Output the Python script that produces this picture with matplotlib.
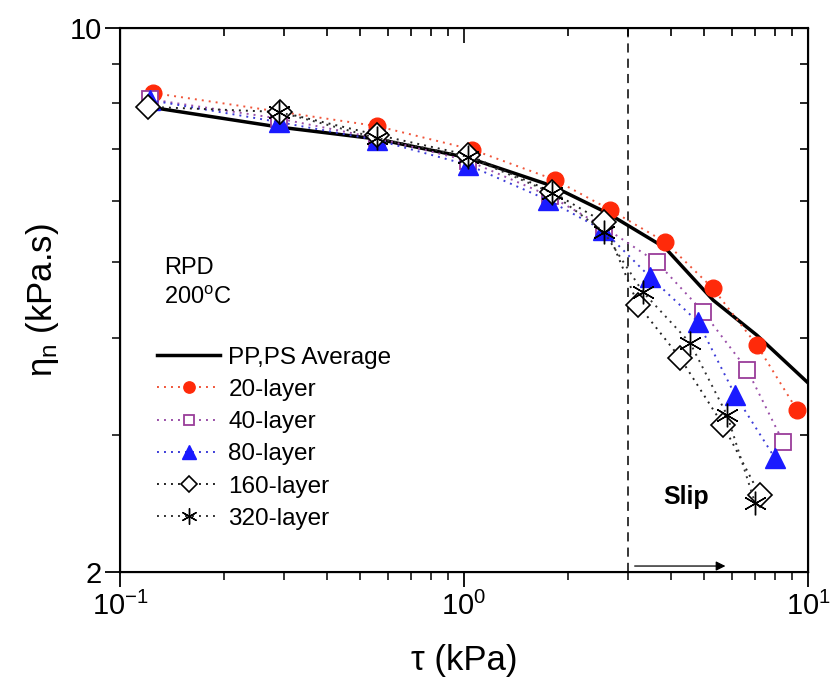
import matplotlib
matplotlib.use('Agg')
import matplotlib.pyplot as plt
from matplotlib.ticker import FixedLocator, NullFormatter, FixedFormatter

plt.rcParams['font.family'] = ['Liberation Sans', 'DejaVu Sans']
plt.rcParams['mathtext.fontset'] = 'custom'
plt.rcParams['mathtext.rm'] = 'Liberation Sans'
plt.rcParams['mathtext.it'] = 'Liberation Sans:italic'

# PP,PS average (solid line)
avg_x = [0.1206, 0.29, 0.56, 1.03, 1.8, 2.6, 3.84, 5.3, 7.1, 10.0]
avg_y = [7.92, 7.46, 7.20, 6.81, 6.27, 5.79, 5.22, 4.47, 4.03, 3.50]

# multilayer series
l20_x = [0.125, 0.56, 1.055, 1.84, 2.66, 3.84, 5.29, 7.11, 9.29]
l20_y = [8.25, 7.48, 6.98, 6.38, 5.84, 5.31, 4.63, 3.91, 3.23]

l40_x = [0.122, 0.29, 0.558, 1.03, 1.78, 2.55, 3.64, 4.95, 6.65, 8.46]
l40_y = [8.10, 7.65, 7.22, 6.75, 6.08, 5.55, 5.00, 4.32, 3.64, 2.94]

l80_x = [0.122, 0.29, 0.558, 1.027, 1.755, 2.536, 3.47, 4.79, 6.13, 8.02]
l80_y = [8.08, 7.57, 7.18, 6.67, 6.01, 5.50, 4.79, 4.19, 3.38, 2.80]

l160_x = [0.1206, 0.292, 0.5586, 1.027, 1.80, 2.55, 3.205, 4.245, 5.66, 7.25]
l160_y = [7.92, 7.80, 7.29, 6.87, 6.16, 5.63, 4.41, 3.77, 3.09, 2.51]

l320_x = [0.29, 0.56, 1.03, 1.80, 2.55, 3.31, 4.54, 5.82, 7.02]
l320_y = [7.80, 7.22, 6.83, 6.14, 5.47, 4.58, 3.94, 3.18, 2.45]

slip_tau = 3.0

dots = (0, (1, 2.6))

fig = plt.figure(figsize=(8.32, 6.8), dpi=100)
ax = fig.add_axes([0.1442, 0.1588, 0.8270, 0.8000])

ax.plot(avg_x, avg_y, color='black', lw=2.5, label='PP,PS Average', zorder=2)
ax.plot(l20_x, l20_y, ls=dots, lw=1.4, color='#f0553a', marker='o', ms=12,
        mfc='#ff2a0a', mec='#ff2a0a', label='20-layer', zorder=3)
ax.plot(l40_x, l40_y, ls=dots, lw=1.4, color='#9a4fa8', marker='s', ms=11,
        mfc='white', mec='#9a3d9a', mew=1.3, label='40-layer', zorder=3)
ax.plot(l80_x, l80_y, ls=dots, lw=1.4, color='#3c3cd8', marker='^', ms=14,
        mfc='#1a1aff', mec='#1a1aff', label='80-layer', zorder=3)
ax.plot(l160_x, l160_y, ls=dots, lw=1.4, color='#222222', marker='D', ms=12,
        mfc='white', mec='black', mew=1.2, label='160-layer', zorder=4)
ax.plot(l320_x, l320_y, ls=dots, lw=1.4, color='#333333', marker=(6, 2, 0), ms=17,
        mec='black', mew=1.0, label='320-layer', zorder=5)

ax.axvline(slip_tau, color='black', ls=(0, (6, 4)), lw=1.1, zorder=1)

ax.set_xscale('log')
ax.set_yscale('log')
ax.set_xlim(0.1, 10)
ax.set_ylim(2, 10)

ax.yaxis.set_major_locator(FixedLocator([2, 10]))
ax.yaxis.set_major_formatter(FixedFormatter(['2', '10']))
ax.yaxis.set_minor_locator(FixedLocator([3, 4, 5, 6, 7, 8, 9]))
ax.yaxis.set_minor_formatter(NullFormatter())

ax.tick_params(which='major', direction='out', length=11, width=1.3, labelsize=21)
ax.tick_params(axis='y', which='major', pad=2)
ax.tick_params(which='minor', direction='out', length=6, width=1.1)
for s in ax.spines.values():
    s.set_linewidth(1.5)

# mirrored ticks pointing inward
axt = ax.twiny()
axt.set_xscale('log')
axt.set_xlim(ax.get_xlim())
axt.tick_params(which='both', direction='in', labeltop=False, width=1.2)
axt.tick_params(which='major', length=11)
axt.tick_params(which='minor', length=6)
axr = ax.twinx()
axr.set_yscale('log')
axr.set_ylim(ax.get_ylim())
axr.yaxis.set_major_locator(FixedLocator([2, 10]))
axr.yaxis.set_minor_locator(FixedLocator([3, 4, 5, 6, 7, 8, 9]))
axr.yaxis.set_minor_formatter(NullFormatter())
axr.tick_params(which='both', direction='in', labelright=False, width=1.2)
axr.tick_params(which='major', length=11)
axr.tick_params(which='minor', length=6)

ax.set_xlabel('τ (kPa)', fontsize=25, labelpad=16)
ax.set_ylabel(r'$\mathregular{\eta_n}$ (kPa.s)', fontsize=25, labelpad=6)

ax.text(0.064, 0.559, 'RPD', transform=ax.transAxes, fontsize=17, va='center')
ax.text(0.064, 0.504, r'200$^{\rm o}$C', transform=ax.transAxes, fontsize=17, va='center')

ax.text(0.79, 0.138, 'Slip', transform=ax.transAxes, fontsize=18,
        fontweight='bold', va='center')
ax.annotate('', xy=(0.884, 0.011), xytext=(0.744, 0.011), xycoords='axes fraction',
            arrowprops=dict(arrowstyle='-|>', color='black', lw=0.9, mutation_scale=14))

leg = ax.legend(loc='upper left', bbox_to_anchor=(0.040, 0.432), frameon=False,
                fontsize=17.5, handlelength=2.6, handletextpad=0.33,
                labelspacing=0.42, markerscale=0.68, borderaxespad=0)

fig.savefig('out.png', dpi=100)
